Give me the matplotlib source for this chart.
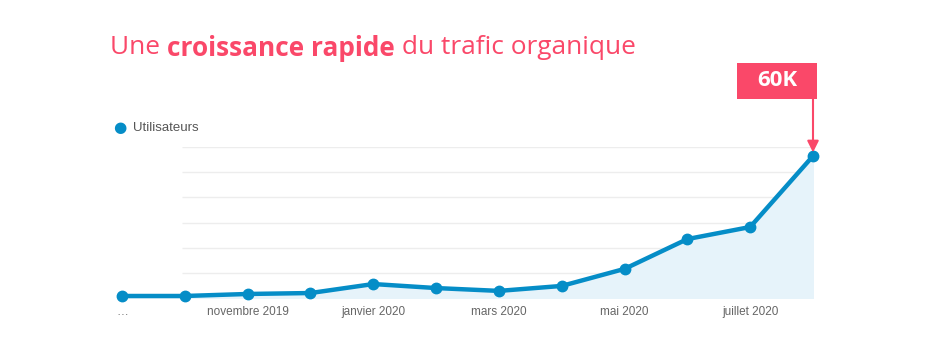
import numpy as np
import matplotlib.pyplot as plt
from matplotlib.patches import Rectangle

# Utilisateurs par mois (en milliers)
mois = ['sept. 2019', 'oct. 2019', 'novembre 2019', 'déc. 2019', 'janvier 2020', 'févr. 2020',
        'mars 2020', 'avr. 2020', 'mai 2020', 'juin 2020', 'juillet 2020', 'août 2020']
utilisateurs = [0.85, 0.85, 1.7, 2.1, 5.9, 4.2, 3.0, 5.1, 12.3, 24.9, 30.0, 60.0]
tick_idx = [0, 2, 4, 6, 8, 10]
tick_labels = ['…', 'novembre 2019', 'janvier 2020', 'mars 2020', 'mai 2020', 'juillet 2020']

pink = '#FA4869'
blue = '#058DC7'

plt.rcParams['font.family'] = ['Open Sans', 'DejaVu Sans']

fig = plt.figure(figsize=(9.26, 3.63), dpi=100)
ax = fig.add_axes([122/926, 1 - 298/363, (813-122)/926, 151/363])

x = np.arange(len(utilisateurs))
ax.set_xlim(0, 11)
ax.set_ylim(0, 63.8)

# grille horizontale claire
for g in np.linspace(0, 63.8, 7)[1:]:
    ax.hlines(g, 0.95, 11.03, color='#EDEDED', lw=1, zorder=0)
ax.hlines(0, 0, 11.03, color='#8A8A8A', lw=1.2, zorder=1)

ax.fill_between(x, utilisateurs, 0, color='#E6F3FA', zorder=1)
ax.plot(x, utilisateurs, color=blue, lw=3.2, marker='o', ms=7.5, clip_on=False, zorder=3)

ax.set_xticks(tick_idx)
ax.set_xticklabels(tick_labels, fontsize=8.5, color='#666666', family=['Liberation Sans', 'DejaVu Sans'])
ax.tick_params(axis='x', length=0, pad=6)
ax.set_yticks([])
for s in ax.spines.values():
    s.set_visible(False)

# légende
fig.text(120/926, 1 - 128/363, '●', color=blue, fontsize=11, ha='center', va='center')
fig.text(133/926, 1 - 128/363, 'Utilisateurs', color='#555555', fontsize=9.5,
         ha='left', va='center', family=['Liberation Sans', 'DejaVu Sans'])

# titre en trois morceaux
fig.canvas.draw()
r = fig.canvas.get_renderer()
xpos = 110
ty = 1 - 48/363
for txt, w in [('Une ', 'normal'), ('croissance rapide', 'bold'), (' du trafic organique', 'normal')]:
    t = fig.text(xpos/926, ty, txt, color=pink, fontsize=18.9, fontweight=w,
                 ha='left', va='center', family=['Open Sans', 'DejaVu Sans'])
    bb = t.get_window_extent(renderer=r)
    xpos += bb.width

# étiquette 60K avec flèche
ax.annotate('', xy=(11, utilisateurs[-1] + 1.5), xytext=(11, 84.5),
            arrowprops=dict(arrowstyle='-|>', color=pink, lw=1.5, mutation_scale=17,
                            shrinkA=0, shrinkB=0),
            annotation_clip=False)
fig.patches.append(Rectangle((737/926, 1 - 99/363), 80/926, 36/363, transform=fig.transFigure,
                             fc=pink, ec='none'))
fig.text(777/926, 1 - 81/363, '60K', color='white', fontsize=16, fontweight='bold',
         ha='center', va='center', family=['Open Sans', 'DejaVu Sans'])

fig.savefig('out.png', dpi=100)
